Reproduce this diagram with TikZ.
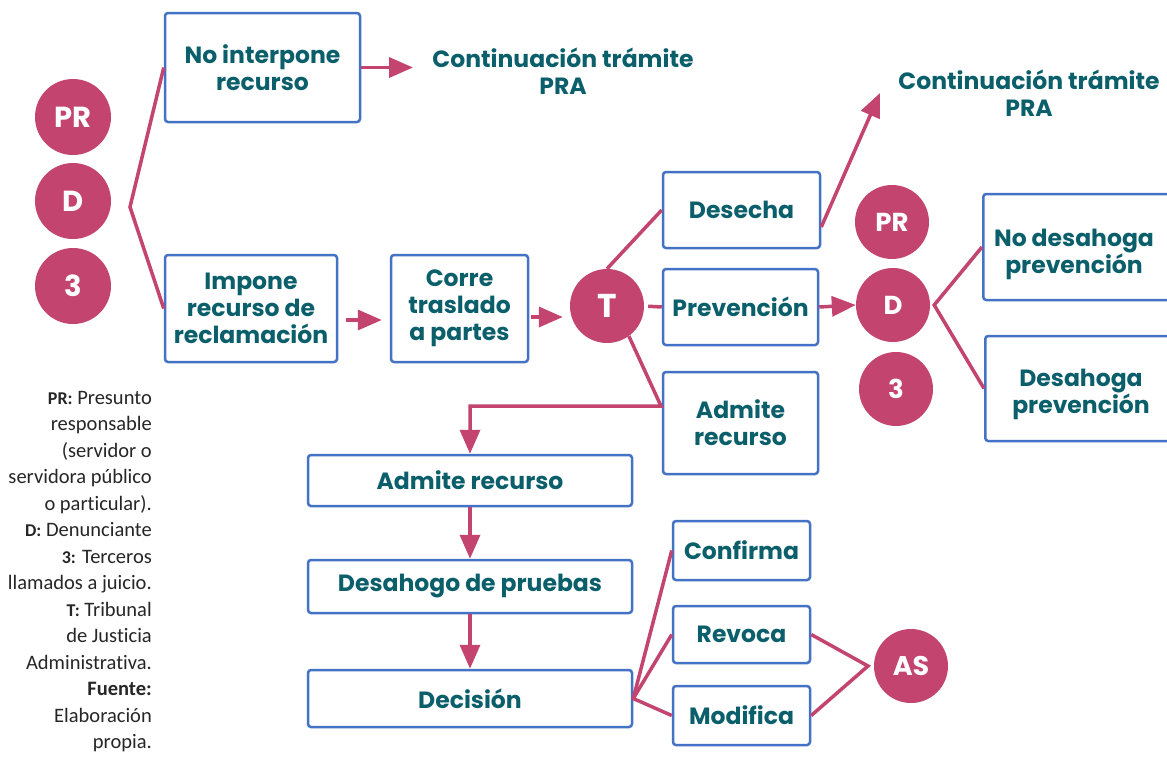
\documentclass[tikz,border=0pt]{standalone}
\usepackage{fontspec}
\setmainfont{Poppins}
\newfontfamily\legfont[Ligatures=NoCommon]{Carlito}
\usetikzlibrary{arrows.meta}
\definecolor{mag}{HTML}{C2446F}
\definecolor{bblue}{HTML}{4472C4}
\definecolor{tealt}{HTML}{0B5F6B}
\newcommand\leglab[1]{{\bfseries\fontsize{18}{18}\selectfont #1}}
\tikzset{
  box/.style={draw=bblue, line width=2.5pt, rounded corners=3pt, fill=white, text=tealt,
    font=\bfseries\fontsize{23.5}{27}\selectfont, align=center, inner sep=0pt},
  ttl/.style={text=tealt, font=\bfseries\fontsize{23.5}{27}\selectfont, align=center, inner sep=0pt},
  circ/.style={circle, fill=mag, text=white, font=\bfseries\fontsize{29}{29}\selectfont,
    minimum size=76pt, inner sep=0pt},
  con/.style={draw=mag, line width=3.5pt},
  arr/.style={con, -{Triangle[length=24pt,width=20pt]}}
}
\begin{document}
\begin{tikzpicture}[x=1pt,y=-1pt]
\useasboundingbox (0,0) rectangle (1167,758);
\fill[white] (0,0) rectangle (1167,758);
% left circles
\node[circ] (pr1) at (73,117) {PR};
\node[circ] (d1) at (73,201) {D};
\node[circ] (t1) at (73,286) {3};
% boxes top-left
\node[box, minimum width=195pt, minimum height=109pt] (ni) at (262.5,67.5) {No interpone\\recurso};
\node[ttl] (c1) at (563,71) {Continuación trámite\\PRA};
\coordinate (c1a) at (413,67.5);
\draw[arr] (ni.east) -- (c1a);
\node[box, minimum width=172pt, minimum height=107pt] (imp) at (251,308.5) {Impone\\recurso de\\reclamación};
\coordinate (br) at (130,207);
\draw[con] (ni.west) -- (br) -- (imp.west);
\node[box, minimum width=137pt, minimum height=107pt] (corre) at (459.5,308.5) {Corre\\traslado\\a partes};
\draw[arr] ([shift={(8,11.5)}]imp.east) -- ([shift={(-8,11.5)}]corre.west);
\node[circ, minimum size=74pt, font=\bfseries\fontsize{33}{33}\selectfont] (T) at (607,306) {T};
\draw[arr] ([shift={(2,8.5)}]corre.east) -- ([shift={(-7,11)}]T.west);
% T branches
\node[box, minimum width=157pt, minimum height=76pt] (des) at (741.5,210) {Desecha};
\node[box, minimum width=155pt, minimum height=76pt] (prev) at (740.5,307) {Prevención};
\node[box, minimum width=155pt, minimum height=102pt] (adm) at (740.5,423) {Admite\\recurso};
\draw[con] (T.north) -- (des.west);
\draw[con, shorten <=4pt] (T.east) -- (prev.west);
\node[box, minimum width=324pt, minimum height=51pt] (adm2) at (470,480.5) {Admite recurso};
\coordinate (j1) at (661,406);
\coordinate (j2) at (470,406);
\draw[arr] (T.-54) -- (j1) -- (j2) -- (adm2.north);
% Desecha -> continuacion
\node[ttl] (c2) at (1029,93) {Continuación trámite\\PRA};
\coordinate (c2a) at (880,93);
\draw[arr] ([yshift=-17pt]des.east) -- (c2a);
% right circles
\node[circ, minimum size=74pt, font=\bfseries\fontsize{26}{26}\selectfont] (pr2) at (892,222) {PR};
\node[circ, minimum size=74pt, font=\bfseries\fontsize{26}{26}\selectfont] (d2) at (893,305) {D};
\node[circ, minimum size=74pt, font=\bfseries\fontsize{26}{26}\selectfont] (t2) at (896,389) {3};
\draw[arr] (prev.east) -- (d2.west);
\node[box, minimum width=193pt, minimum height=106pt, anchor=west] (nd) at (982,247) {};
\node[ttl] (ndt) at (1074,254) {No desahoga\\prevención};
\node[box, minimum width=191pt, minimum height=105pt, anchor=west] (dp) at (984,388.5) {};
\node[ttl] (dpt) at (1081,394) {Desahoga\\prevención};
\draw[con] (nd.west) -- ([xshift=4pt]d2.east) -- (dp.west);
% lower column
\node[box, minimum width=324pt, minimum height=53pt] (des2) at (470,586.5) {Desahogo de pruebas};
\node[box, minimum width=324pt, minimum height=57pt] (dec) at (470,698.5) {Decisión};
\draw[arr] (adm2.south) -- (des2.north);
\draw[arr] (des2.south) -- (dec.north);
\node[box, minimum width=137pt, minimum height=59pt] (conf) at (741.5,550.5) {Confirma};
\node[box, minimum width=137pt, minimum height=57pt] (rev) at (741.5,634.5) {Revoca};
\node[box, minimum width=137pt, minimum height=59pt] (mod) at (741.5,715.5) {Modifica};
\draw[con] (conf.west) -- (dec.east) -- (mod.west);
\draw[con] (rev.west) -- (dec.east);
\node[circ, minimum size=74pt, font=\bfseries\fontsize{27}{27}\selectfont] (as) at (911,666) {AS};
\coordinate (asp) at (868,666);
\draw[con] (rev.east) -- (asp) -- (mod.east);
% legend
\node[anchor=north east, align=right, inner sep=0pt, text=black!85,
  font=\legfont\fontsize{20.5}{26.5}\selectfont] (leg) at (152,391) {%
\leglab{PR:} Presunto\\responsable\\(servidor o\\servidora público\\o particular).\\
\leglab{D:} Denunciante\\\leglab{3:} Terceros\\llamados a juicio.\\\leglab{T:} Tribunal\\de Justicia\\
Administrativa.\\\textbf{Fuente:}\\Elaboración\\propia.};
\end{tikzpicture}
\end{document}
